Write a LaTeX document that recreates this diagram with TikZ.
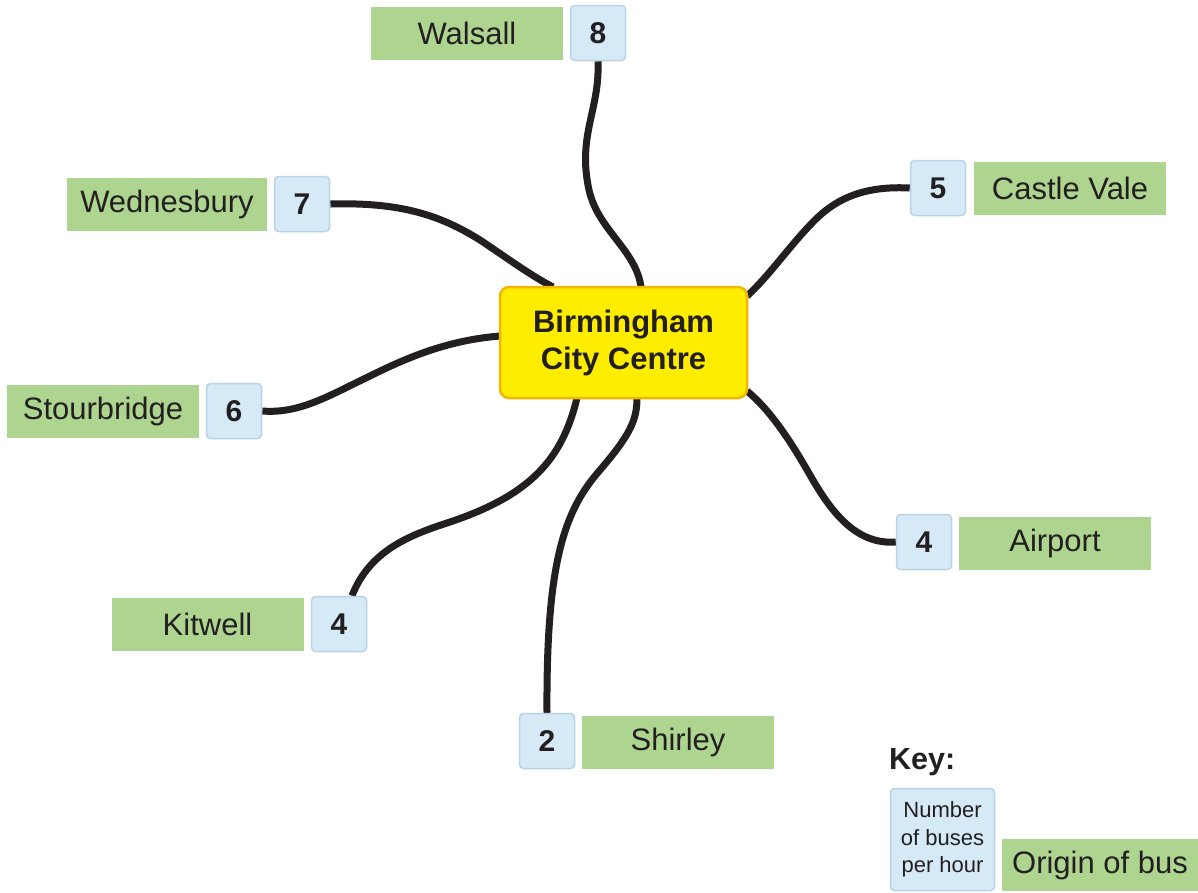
\documentclass[tikz,border=0pt]{standalone}
\usepackage{fontspec}
\setmainfont{Liberation Sans}
\usetikzlibrary{backgrounds}
\definecolor{lgreen}{HTML}{AED590}
\definecolor{lblue}{HTML}{D5E9F7}
\definecolor{lblueedge}{HTML}{B9D3E6}
\definecolor{cyellow}{HTML}{FFED00}
\definecolor{cyedge}{HTML}{F2B705}
\definecolor{linec}{HTML}{231F20}
\tikzset{
  origin/.style={fill=lgreen, minimum height=53pt, minimum width=192pt, inner sep=0pt,
    font=\fontsize{31}{36}\selectfont, text=linec},
  numbox/.style={fill=lblue, draw=lblueedge, line width=1.5pt, rounded corners=4pt,
    minimum width=55pt, minimum height=55pt, inner sep=0pt,
    font=\bfseries\fontsize{30}{34}\selectfont, text=linec},
  centre/.style={fill=cyellow, draw=cyedge, line width=2.5pt, rounded corners=9pt,
    minimum width=247pt, minimum height=111pt, align=center, inner sep=0pt,
    font=\bfseries\fontsize{31}{37}\selectfont, text=linec},
  route/.style={draw=linec, line width=7pt}
}
\begin{document}
\begin{tikzpicture}[x=1pt,y=-1pt]
\useasboundingbox (0,0) rectangle (1198,892);
% centre
\node[centre] (cc) at (623.5,342.5) {Birmingham\\City Centre};
% origins and numbers
\node[origin] (gWal) at (467,33.5) {Walsall};
\node[numbox] (n8) at (598,33) {8};
\node[origin, minimum width=200pt] (gWed) at (167,204.5) {Wednesbury};
\node[numbox] (n7) at (302,204) {7};
\node[numbox] (n5) at (938,188) {5};
\node[origin] (gCas) at (1070,188.5) {Castle Vale};
\node[origin] (gSto) at (103,411.5) {Stourbridge};
\node[numbox] (n6) at (234,411) {6};
\node[numbox] (n4a) at (924,542) {4};
\node[origin] (gAir) at (1055,543) {Airport};
\node[origin] (gKit) at (207.5,624.5) {Kitwell};
\node[numbox] (n4k) at (339,624) {4};
\node[numbox] (n2) at (547,741) {2};
\node[origin] (gShi) at (678,742.5) {Shirley};
% key
\node[anchor=west, font=\bfseries\fontsize{30.5}{34}\selectfont, text=linec, inner sep=0pt] (keyt) at (889,762) {Key:};
\node[numbox, minimum width=104pt, minimum height=102pt, align=center,
  font=\fontsize{22}{27.5}\selectfont] (keyn) at (942.5,839.5) {Number\\of buses\\per hour};
\node[origin, minimum width=196pt, minimum height=52pt] (keyo) at (1100,865) {Origin of bus};
% connector endpoints on the centre box
\coordinate (c8) at (641,287);
\coordinate (c7) at (553,287);
\coordinate (c5) at (747,296);
\coordinate (c6) at (500,336);
\coordinate (c4a) at (747,391);
\coordinate (c4k) at (577,398);
\coordinate (c2) at (637,398);
\begin{scope}[on background layer]
\draw[route] (n8.south) .. controls (600,110) and (577,135) .. (589,190)
  .. controls (598,230) and (636,250) .. (c8);
\draw[route] (n7.east) .. controls (400,202) and (440,215) .. (480,240)
  .. controls (510,260) and (530,275) .. (c7);
\draw[route] (n5.west) .. controls (870,186) and (840,195) .. (815,220)
  .. controls (790,245) and (770,275) .. (c5);
\draw[route] (n6.east) .. controls (300,414) and (330,395) .. (370,376)
  .. controls (410,356) and (450,340) .. (c6);
\draw[route] (c4a) .. controls (770,410) and (790,440) .. (810,475)
  .. controls (830,510) and (855,545) .. (n4a.west);
\draw[route] (n4k.north) ++(13,0) .. controls (370,550) and (410,535) .. (450,522)
  .. controls (530,495) and (562,460) .. (c4k);
\draw[route] (n2.north) .. controls (546,560) and (565,510) .. (600,470)
  .. controls (630,435) and (637,420) .. (c2);
\end{scope}
\end{tikzpicture}
\end{document}
